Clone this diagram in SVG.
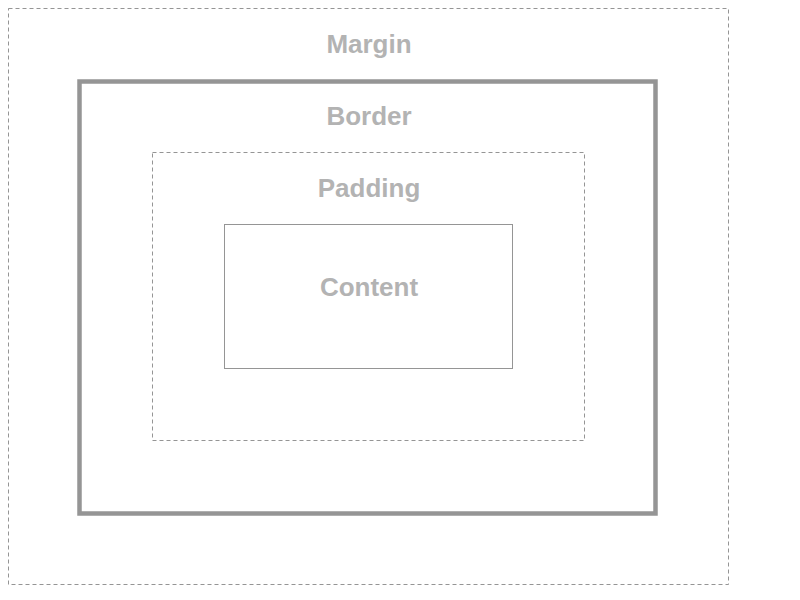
<svg xmlns="http://www.w3.org/2000/svg" width="800" height="600" viewBox="0 0 800 600">
<style>
.dash{fill:none;stroke:#959595;stroke-width:1;stroke-dasharray:4,3}
.thick{fill:none;stroke:#959595;stroke-width:4.5}
.solid{fill:none;stroke:#959595;stroke-width:1}
.lbl{font-family:"Liberation Sans",Arial,Helvetica,sans-serif;font-weight:bold;font-size:26px;fill:#b3b3b3;text-anchor:middle}
</style>
<rect width="800" height="600" fill="#ffffff"/>
<g id="margin">
<rect class="dash" x="8.5" y="8.5" width="720" height="576"/>
<text class="lbl" x="369" y="53">Margin</text>
</g>
<g id="border">
<rect class="thick" x="79.5" y="81.5" width="576" height="432"/>
<text class="lbl" x="369" y="125">Border</text>
</g>
<g id="padding">
<rect class="dash" x="152.5" y="152.5" width="432" height="288"/>
<text class="lbl" x="369" y="197">Padding</text>
</g>
<g id="content">
<rect class="solid" x="224.5" y="224.5" width="288" height="144"/>
<text class="lbl" x="369" y="296">Content</text>
</g>
<g id="connectors"/>
</svg>
